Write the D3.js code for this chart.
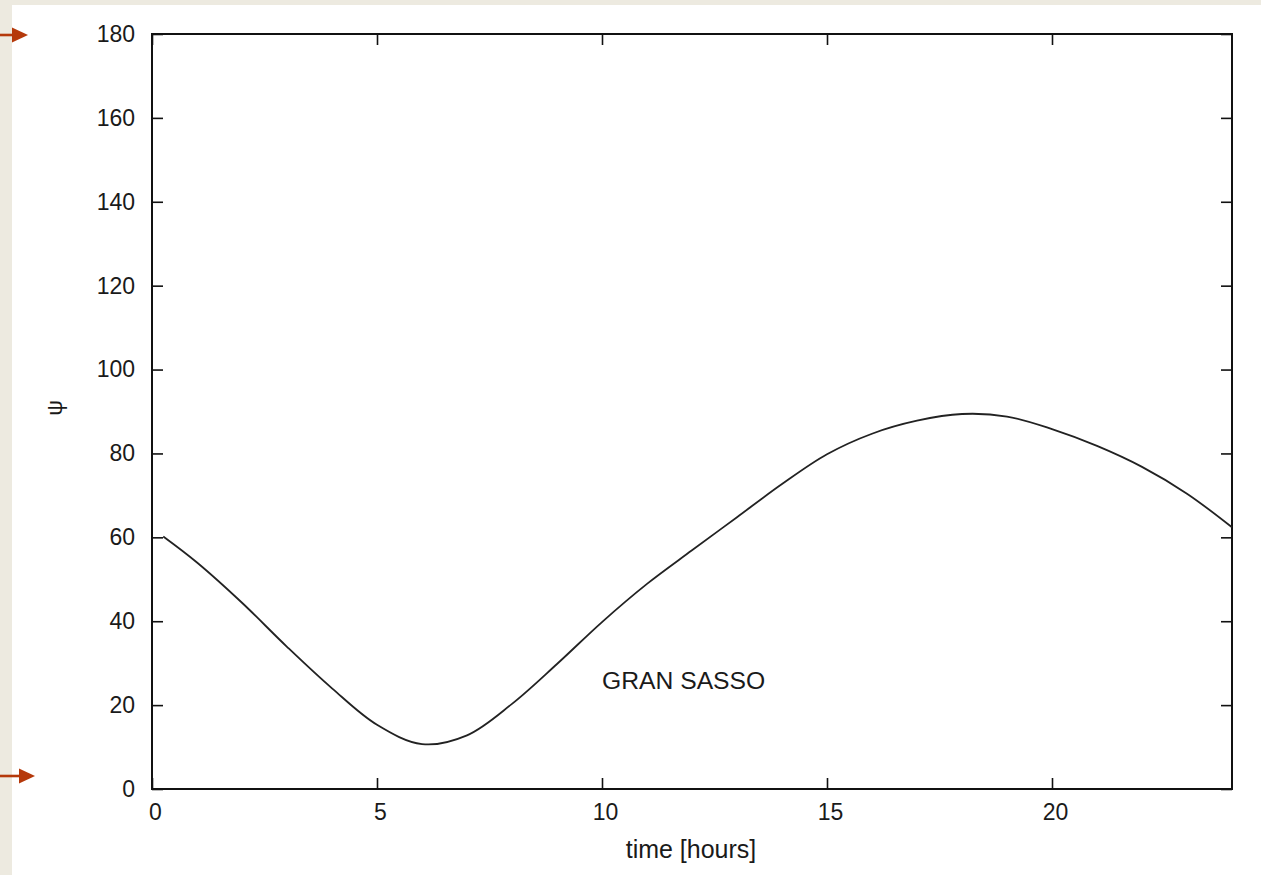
<!DOCTYPE html>
<html>
<head>
<meta charset="utf-8">
<script src="https://cdn.jsdelivr.net/npm/d3@7"></script>
<style>
  html, body { margin: 0; padding: 0; background: #ffffff; }
  svg { display: block; }
  text { font-family: "Liberation Sans", Arial, sans-serif; fill: #1a1a1a; }
</style>
</head>
<body>
<svg id="chart" width="1261" height="875"></svg>
<script>
// ---- data ----
const hours = [0.25, 1, 2, 3, 4, 5, 6, 7, 8, 9, 10, 11, 12, 13, 14, 15, 16, 17, 18, 19, 20, 21, 22, 23, 24];
const psi   = [60.2, 54.0, 44.4, 33.9, 24.0, 15.3, 10.7, 12.8, 20.3, 29.8, 39.8, 48.9, 56.9, 64.8, 72.7, 79.8, 84.7, 87.8, 89.4, 88.8, 85.8, 81.8, 76.8, 70.4, 62.4];
const xTicks = [0, 5, 10, 15, 20];
const yTicks = [0, 20, 40, 60, 80, 100, 120, 140, 160, 180];
const xLabel = "time [hours]";
const yLabel = "ψ";
const annotation = { text: "GRAN SASSO", t: 10, v: 26 };

// ---- layout ----
const W = 1261, H = 875;
const plot = { left: 152, top: 34, right: 1232, bottom: 789 };
const svg = d3.select("#chart");

// page background strips
svg.append("rect").attr("x", 0).attr("y", 0).attr("width", W).attr("height", H).attr("fill", "#ffffff");
svg.append("rect").attr("x", 0).attr("y", 0).attr("width", W).attr("height", 5).attr("fill", "#edeae0");
svg.append("rect").attr("x", 0).attr("y", 0).attr("width", 12).attr("height", H).attr("fill", "#edeae0");

// arrows on the left
const arrowColor = "#b5390b";
function arrow(y, lineEnd, headEnd) {
  svg.append("line").attr("x1", 0).attr("x2", lineEnd + 2).attr("y1", y).attr("y2", y)
     .attr("stroke", arrowColor).attr("stroke-width", 2.6);
  svg.append("path")
     .attr("d", `M${lineEnd},${y - 7.5} L${headEnd},${y} L${lineEnd},${y + 7.5} Z`)
     .attr("fill", arrowColor);
}
arrow(35, 12, 28);
arrow(776, 19, 35);

const x = d3.scaleLinear().domain([0, 24]).range([plot.left, plot.right]);
const y = d3.scaleLinear().domain([0, 180]).range([plot.bottom, plot.top]);

const tickLen = 11;
const g = svg.append("g");

// bottom axis (ticks inward)
const xAxisB = d3.axisBottom(x).tickValues(xTicks).tickSize(-tickLen).tickPadding(15).tickFormat(d3.format("d"));
const gxb = g.append("g").attr("transform", `translate(0,${plot.bottom})`).call(xAxisB);
// top mirror ticks
const gxt = g.append("g").attr("transform", `translate(0,${plot.top})`)
  .call(d3.axisTop(x).tickValues(xTicks).tickSize(-tickLen).tickFormat(""));
// left axis
const yAxisL = d3.axisLeft(y).tickValues(yTicks).tickSize(-tickLen).tickPadding(17).tickFormat(d3.format("d"));
const gyl = g.append("g").attr("transform", `translate(${plot.left},0)`).call(yAxisL);
// right mirror ticks
const gyr = g.append("g").attr("transform", `translate(${plot.right},0)`)
  .call(d3.axisRight(y).tickValues(yTicks).tickSize(-tickLen).tickFormat(""));

[gxb, gxt, gyl, gyr].forEach(a => {
  a.select(".domain").remove();
  a.selectAll(".tick line").attr("stroke", "#111").attr("stroke-width", 1.6);
  a.selectAll(".tick text").attr("font-size", 23).attr("fill", "#1a1a1a")
    .attr("font-family", "'Liberation Sans', Arial, sans-serif");
});
gxb.selectAll(".tick text").attr("dx", 3);

// frame
g.append("rect")
  .attr("x", plot.left).attr("y", plot.top)
  .attr("width", plot.right - plot.left).attr("height", plot.bottom - plot.top)
  .attr("fill", "none").attr("stroke", "#111").attr("stroke-width", 2);

// curve
const line = d3.line().x((d, i) => x(hours[i])).y(d => y(d)).curve(d3.curveCatmullRom.alpha(0.5));
g.append("path").datum(psi).attr("d", line)
  .attr("fill", "none").attr("stroke", "#222").attr("stroke-width", 1.8);

// annotation
g.append("text").attr("x", x(annotation.t)).attr("y", y(annotation.v) + 9)
  .attr("font-size", 24.7).text(annotation.text);

// axis labels
g.append("text").attr("x", 691).attr("y", 858)
  .attr("text-anchor", "middle").attr("font-size", 25).text(xLabel);
g.append("text").attr("transform", "translate(62,408) rotate(-90)")
  .attr("text-anchor", "middle").attr("font-size", 22).text(yLabel);
</script>
</body>
</html>
